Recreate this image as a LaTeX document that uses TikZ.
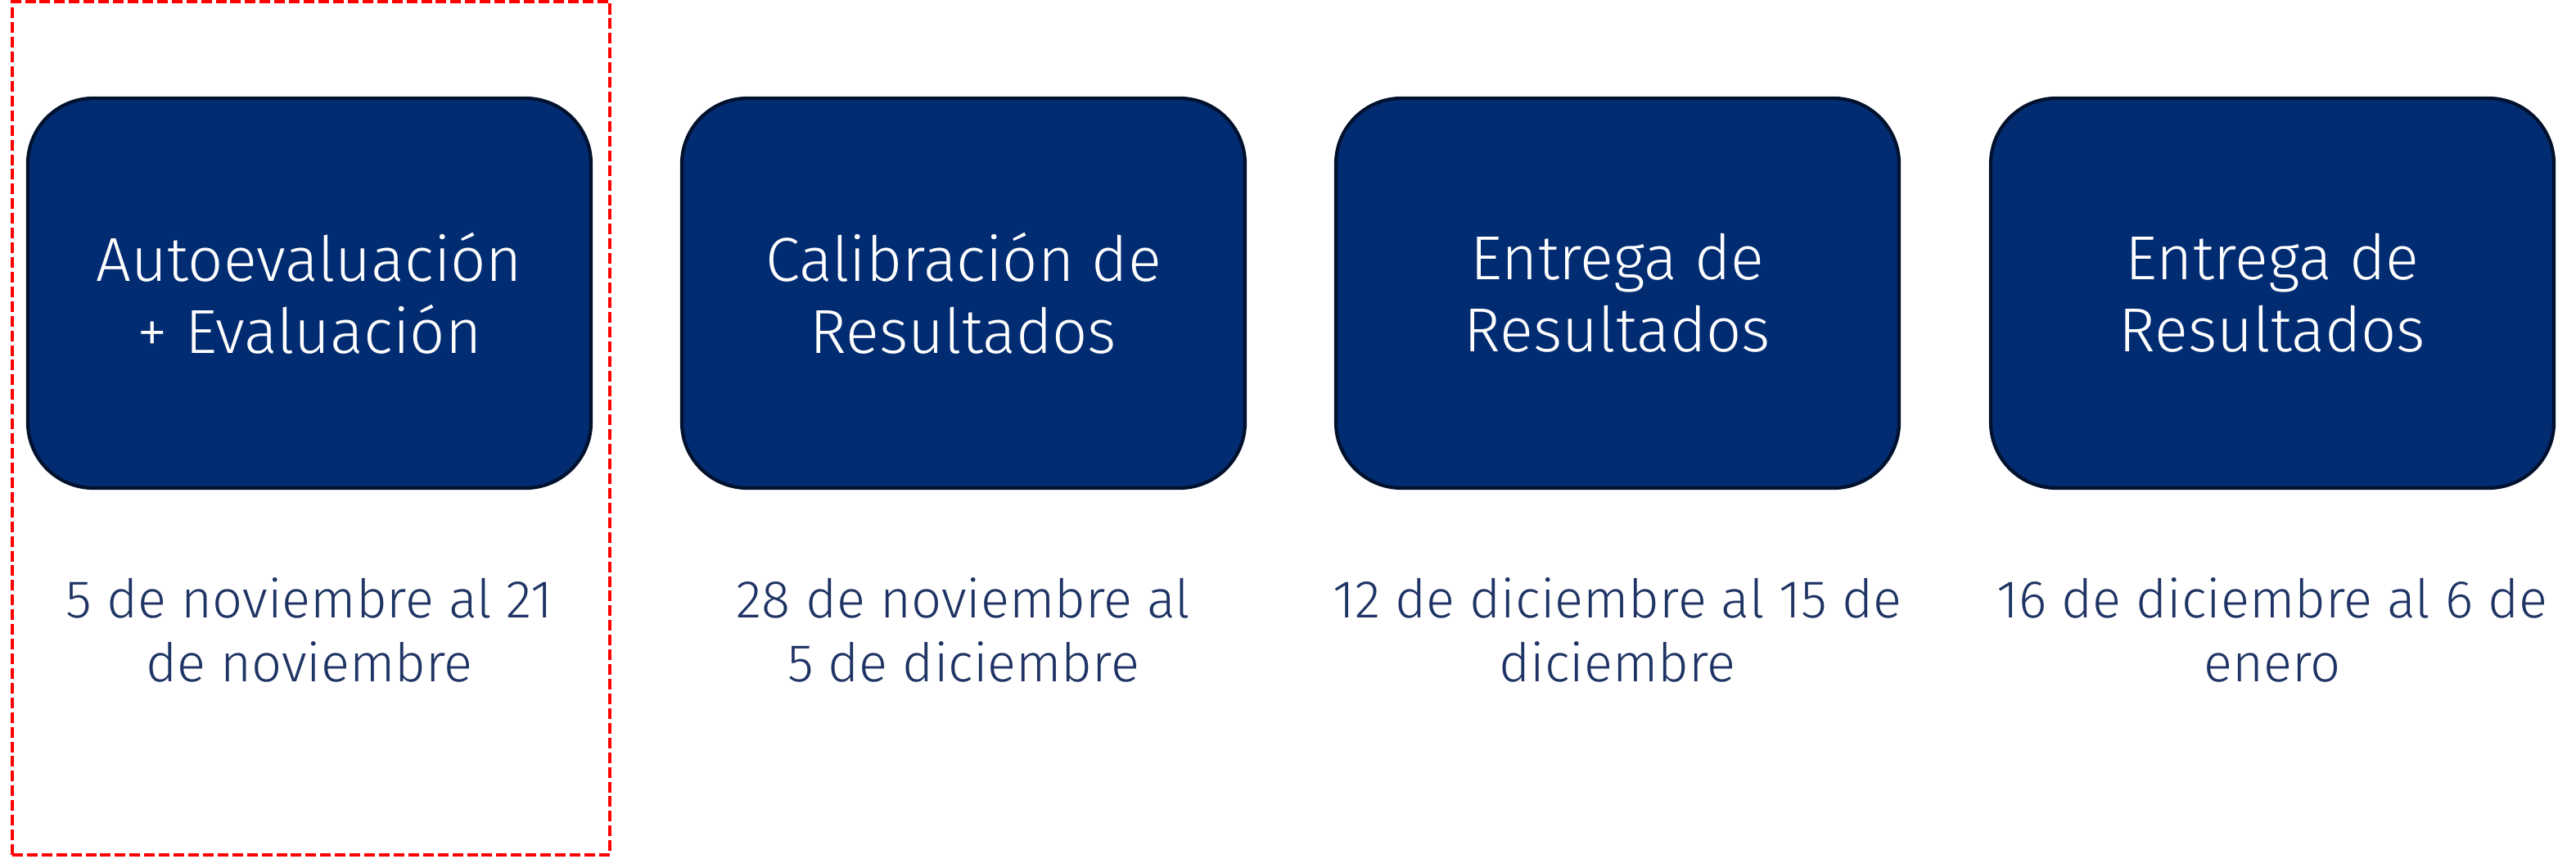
\documentclass[tikz,border=0pt]{standalone}
\usepackage{fontspec}
\setmainfont{Fira Sans Light}
\usetikzlibrary{positioning}

\definecolor{phasefill}{HTML}{022C72}
\definecolor{phaseedge}{HTML}{00112E}
\definecolor{periodtext}{HTML}{1F3464}

\tikzset{
  phase/.style={draw=phaseedge, line width=1.2pt, fill=phasefill, rounded corners=0.8cm,
    minimum width=6.88cm, minimum height=4.76cm, align=center, text=white,
    font=\fontsize{21.6}{25}\selectfont},
  period/.style={align=center, text=periodtext, inner sep=0pt,
    font=\fontsize{18.5}{22}\selectfont}
}

\begin{document}
\begin{tikzpicture}
    \useasboundingbox (0,0) rectangle (31.47,10.48);

    \coordinate (first) at (3.78,6.90);
    \coordinate (second) at (11.77,6.90);
    \coordinate (third) at (19.76,6.90);
    \coordinate (fourth) at (27.76,6.90);

    \node[phase] (auto) at (first) {Autoevaluación\\+ Evaluación};
    \node[phase] (calib) at (second) {Calibración de\\Resultados};
    \node[phase] (deliv) at (third) {Entrega de\\Resultados};
    \node[phase] (delivb) at (fourth) {Entrega de\\Resultados};

    \node[period, below=1.07cm of auto] (autodate) {5 de noviembre al 21\\de noviembre};
    \node[period, below=1.07cm of calib] (calibdate) {28 de noviembre al\\5 de diciembre};
    \node[period, below=1.07cm of deliv] (delivdate) {12 de diciembre al 15 de\\diciembre};
    \node[period, below=1.07cm of delivb] (delivbdate) {16 de diciembre al 6 de\\enero};

    % current stage
    \draw[red, line width=1.1pt, dash pattern=on 3.7pt off 1.4pt] (0.15,0.04) rectangle (7.45,10.46);
\end{tikzpicture}
\end{document}
